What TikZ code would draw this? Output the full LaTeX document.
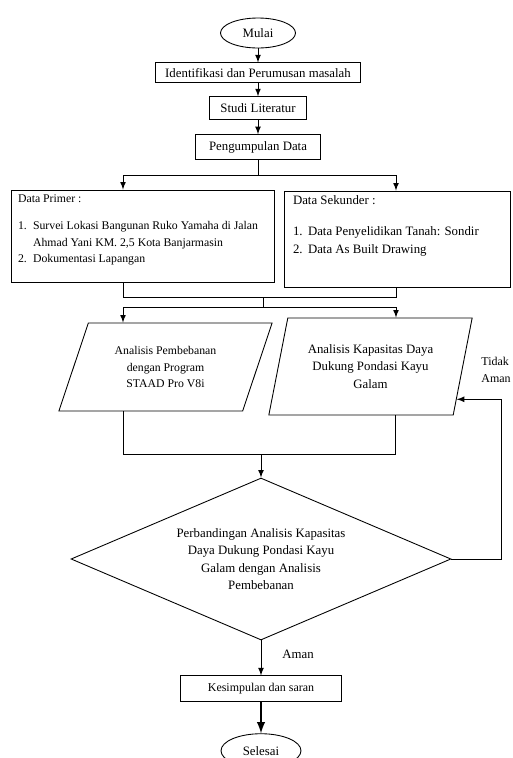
\documentclass[tikz,border=0pt]{standalone}
\usepackage{fontspec}
\setmainfont{Liberation Serif}
\usetikzlibrary{positioning}
\usetikzlibrary{arrows, shapes.geometric, calc}

\begin{document}
\begin{tikzpicture}[x=0.02cm, y=-0.02cm, >=latex, line width=0.5pt,
  every node/.style = {font=\fontsize{7.3}{10}\selectfont},
  term/.style = {draw, ellipse, minimum width=1.5cm, minimum height=0.6cm, inner sep=0pt},
  proc/.style = {draw, rectangle, inner sep=2pt},
  databox/.style = {draw, rectangle, inner xsep=0.14cm, inner ysep=0.1cm},
  io/.style = {draw, trapezium, trapezium stretches=true, align=center, inner sep=1pt},
  dec/.style = {draw, diamond, aspect=2.35, minimum width=7.6cm, minimum height=3.24cm, align=center, inner sep=0pt},
  node distance=0.28cm]
\useasboundingbox (0,0) rectangle (513,758);

\node[term] (mulai) at (258,33) {Mulai};
\node[proc, minimum width=4.1cm, minimum height=0.4cm] (ident) [below=of mulai] {Identifikasi dan Perumusan masalah};
\node[proc, minimum width=1.94cm, minimum height=0.46cm] (studi) [below=0.26cm of ident] {Studi Literatur};
\node[proc, minimum width=2.5cm, minimum height=0.5cm] (kumpul) [below=of studi] {Pengumpulan Data};

\node[databox] (primer) at (142.5,236) {\parbox[c][1.64cm][t]{4.98cm}{\fontsize{6.7}{9.4}\selectfont
  Data Primer :\\[6pt]
  \makebox[0.3cm][l]{1.}Survei Lokasi Bangunan Ruko Yamaha di Jalan\\
  \hspace*{0.3cm}Ahmad Yani KM. 2,5 Kota Banjarmasin\\
  \makebox[0.3cm][l]{2.}Dokumentasi Lapangan}};
\node[databox, inner xsep=0.18cm] (sekunder) at (397,239) {\parbox[c][1.72cm][t]{4.16cm}{\fontsize{7.3}{10.2}\selectfont
  Data Sekunder :\\[7pt]
  \makebox[0.3cm][l]{1.}Data Penyelidikan Tanah: Sondir\\
  \makebox[0.3cm][l]{2.}Data As Built Drawing}};

\node[io, trapezium left angle=65.6, trapezium right angle=114.4, minimum width=4.3cm, minimum height=1.76cm,
  font=\fontsize{6.7}{9.2}\selectfont] (beban) at (165.5,367) {Analisis Pembebanan\\dengan Program\\STAAD Pro V8i};
\node[io, trapezium left angle=72.8, trapezium right angle=107.2, minimum width=4.1cm, minimum height=1.94cm]
  (kapasitas) at (370.5,366.5) {Analisis Kapasitas Daya\\Dukung Pondasi Kayu\\Galam};
\node[anchor=west, align=left, inner sep=0pt, font=\fontsize{6.8}{9.6}\selectfont] (tidak) at (481,370) {Tidak\\Aman};

\node[dec] (banding) at (261,559) {Perbandingan Analisis Kapasitas\\Daya Dukung Pondasi Kayu\\Galam dengan Analisis\\Pembebanan};
\node[proc, minimum width=3.22cm, minimum height=0.52cm, font=\fontsize{6.8}{8}\selectfont] (simpul) [below=0.7cm of banding] {Kesimpulan dan saran};
\node[term, minimum width=1.6cm, minimum height=0.68cm] (selesai) [below=0.62cm of simpul] {Selesai};
\node (aman) at (298,654) {Aman};

\path (mulai) edge [->] (ident);
\path (ident) edge [->] (studi);
\path (studi) edge [->] (kumpul);

% pembagian data
\coordinate (kiri1) at (123,175);
\coordinate (kanan1) at (396,175);
\draw (kumpul.south) -- (kumpul.south |- kiri1);
\draw (kiri1) -- (kanan1);
\draw[->] (kiri1) -- (kiri1 |- primer.north);
\draw[->] (kanan1) -- (kanan1 |- sekunder.north);

% gabung ke analisis
\coordinate (kiri2) at (123,297);
\coordinate (kanan2) at (396,297);
\coordinate (tengah2) at (263,297);
\coordinate (kiri3) at (123,307);
\coordinate (kanan3) at (396,307);
\draw (kiri2 |- primer.south) -- (kiri2) -- (kanan2) -- (kanan2 |- sekunder.south);
\draw (tengah2) -- (tengah2 |- kiri3);
\draw (kiri3) -- (kanan3);
\draw[->] (kiri3) -- (kiri3 |- beban.north);
\draw[->] (kanan3) -- (kanan3 |- kapasitas.north);

\coordinate (kiri4) at (123,454);
\coordinate (kanan4) at (395,454);
\draw (kiri4 |- beban.south) -- (kiri4) -- (kanan4) -- (kanan4 |- kapasitas.south);
\draw[->] (banding.north |- kiri4) -- (banding.north);

% tidak aman
\coordinate (balik) at (501,399);
\coordinate (masuk) at ($(kapasitas.bottom right corner)!0.165!(kapasitas.top right corner)$);
\draw[->] (banding.east) -| (balik |- masuk) -- (masuk);

\path (banding) edge [->] (simpul);
\draw[->, line width=1.2pt] (simpul) -- (selesai);
\end{tikzpicture}
\end{document}
